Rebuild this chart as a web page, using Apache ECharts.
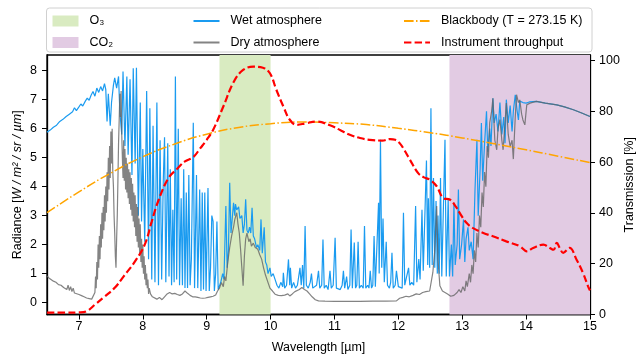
<!DOCTYPE html>
<html>
<head>
<meta charset="utf-8">
<script src="https://cdn.jsdelivr.net/npm/echarts@6/dist/echarts.min.js"></script>
<style>
html, body { margin: 0; padding: 0; background: #fff; }
#chart { width: 636px; height: 357px; }
</style>
</head>
<body>
<div id="chart"></div>
<script>
// absorption bands (µm)
const o3Band = [9.2, 10.0];
const co2Band = [12.8, 15.0];

// tick labels
const xTicks = [7, 8, 9, 10, 11, 12, 13, 14, 15];
const radianceTicks = [0, 1, 2, 3, 4, 5, 6, 7, 8];
const transmissionTicks = [0, 20, 40, 60, 80, 100];

// blackbody radiance, read every 0.5 µm
const bbWavelength = [6.5, 7, 7.5, 8, 8.5, 9, 9.5, 10, 10.5, 11, 11.5, 12, 12.5, 13, 13.5, 14, 14.5, 15];
const blackbody = [3.10, 3.82, 4.47, 5.03, 5.47, 5.81, 6.04, 6.17, 6.23, 6.20, 6.14, 6.01, 5.86, 5.68, 5.48, 5.27, 5.05, 4.83];

// instrument throughput [%]  [wavelength, value]
const throughput = [
  [6.5, 0.7], [6.8, 0.7], [7.0, 0.8], [7.12, 1.3], [7.25, 3.9], [7.4, 7.0], [7.56, 10.5], [7.7, 15], [7.88, 21],
  [8.03, 27.5], [8.14, 36.7], [8.24, 44.6], [8.4, 53.7], [8.55, 57.7], [8.66, 60.3], [8.79, 62.0], [8.9, 65.5],
  [9.0, 68.8], [9.1, 72.7], [9.26, 81.9], [9.42, 91.5], [9.57, 96.3], [9.73, 97.6], [9.88, 97.2], [9.99, 95],
  [10.09, 88.5], [10.2, 81.9], [10.3, 76.7], [10.41, 74.7], [10.55, 75.3], [10.72, 76], [10.93, 74.5], [11.1, 72.5],
  [11.24, 70.8], [11.4, 69.5], [11.55, 68.8], [11.75, 68.5], [11.87, 69.1], [11.95, 68.8], [12.02, 67.5], [12.1, 64.5],
  [12.18, 61], [12.31, 55.7], [12.4, 54], [12.49, 53.1], [12.6, 50.5], [12.7, 45.9], [12.81, 45.2], [12.9, 42.5],
  [12.96, 40], [13.07, 36], [13.17, 34], [13.33, 32.1], [13.48, 30.8], [13.69, 28.8], [13.9, 26.9], [14.01, 24.9],
  [14.11, 26.2], [14.27, 27.5], [14.37, 26.2], [14.43, 25.5], [14.48, 28.2], [14.53, 26], [14.58, 24.3], [14.68, 26.2],
  [14.79, 21.6], [14.89, 16.4], [14.97, 11.1], [15.0, 9.5]
];

// wet atmosphere radiance  [wavelength, value]
const wetAtmosphere = [
  [6.50, 5.88], [6.55, 5.95], [6.60, 6.05], [6.65, 6.12], [6.70, 6.25], [6.75, 6.32], [6.80, 6.42], [6.85, 6.50],
  [6.90, 6.58], [6.93, 6.72], [6.96, 6.62], [7.00, 6.75], [7.03, 6.85], [7.06, 6.78], [7.10, 6.95], [7.13, 7.05],
  [7.16, 6.98], [7.19, 7.15], [7.22, 7.28], [7.25, 7.12], [7.28, 7.40], [7.31, 7.25], [7.34, 7.45], [7.37, 7.30],
  [7.40, 7.55], [7.42, 7.35], [7.44, 6.25], [7.46, 7.2], [7.49, 6.1], [7.51, 6.9], [7.54, 7.5], [7.56, 7.75],
  [7.59, 7.4], [7.62, 7.8], [7.64, 6.6], [7.67, 5.8], [7.69, 7.97], [7.72, 5.4], [7.75, 7.8], [7.77, 5.1],
  [7.80, 7.7], [7.83, 4.4], [7.85, 8.08], [7.88, 4.8], [7.90, 8.1], [7.93, 3.0], [7.96, 6.9], [7.98, 2.8],
  [8.00, 5.3], [8.03, 2.1], [8.06, 7.3], [8.09, 1.5], [8.11, 6.7], [8.14, 0.8], [8.16, 6.1], [8.19, 0.7],
  [8.22, 6.9], [8.245, 0.6], [8.27, 5.6], [8.295, 0.8], [8.32, 4.2], [8.34, 5.7], [8.36, 0.7], [8.39, 5.5],
  [8.41, 0.9], [8.43, 4.6], [8.45, 0.6], [8.47, 3.2], [8.49, 0.7], [8.51, 7.8], [8.53, 0.8], [8.555, 6.0],
  [8.575, 0.6], [8.60, 3.6], [8.62, 0.6], [8.64, 4.6], [8.66, 0.5], [8.68, 3.8], [8.70, 0.5], [8.72, 4.4],
  [8.74, 0.6], [8.76, 1.5], [8.79, 6.2], [8.81, 0.5], [8.84, 4.4], [8.86, 0.5], [8.89, 3.9], [8.91, 0.4],
  [8.93, 3.8], [8.95, 0.45], [8.97, 3.8], [8.99, 0.4], [9.02, 3.95], [9.04, 0.4], [9.06, 1.2], [9.08, 3.0],
  [9.10, 2.8], [9.12, 0.4], [9.14, 1.0], [9.16, 2.8], [9.18, 0.45], [9.20, 0.5], [9.22, 0.7], [9.25, 1.0],
  [9.27, 0.8], [9.30, 3.33], [9.32, 1.2], [9.34, 1.8], [9.36, 4.13], [9.38, 2.4], [9.40, 2.9], [9.42, 3.44],
  [9.44, 3.0], [9.45, 3.4], [9.47, 3.2], [9.50, 3.3], [9.52, 2.9], [9.55, 3.0], [9.57, 2.4], [9.59, 2.7],
  [9.61, 3.56], [9.63, 2.5], [9.65, 2.4], [9.67, 2.6], [9.69, 2.4], [9.71, 3.27], [9.73, 2.3], [9.75, 2.2],
  [9.78, 1.9], [9.80, 2.0], [9.83, 1.8], [9.85, 2.87], [9.87, 1.7], [9.90, 2.6], [9.92, 1.4], [9.94, 1.3],
  [9.96, 1.0], [9.99, 1.2], [10.01, 0.9], [10.04, 1.0], [10.07, 0.8], [10.10, 0.6], [10.13, 0.5], [10.16, 0.7],
  [10.19, 0.55], [10.20, 1.03], [10.22, 0.5], [10.25, 0.6], [10.28, 1.49], [10.30, 0.6], [10.31, 1.2], [10.33, 0.5],
  [10.36, 0.7], [10.39, 0.5], [10.42, 0.6], [10.46, 1.2], [10.48, 0.6], [10.50, 1.3], [10.52, 0.5], [10.54, 2.64],
  [10.56, 0.6], [10.59, 0.5], [10.62, 0.7], [10.64, 1.0], [10.66, 0.5], [10.69, 0.55], [10.72, 0.6], [10.75, 1.1],
  [10.77, 0.5], [10.80, 0.6], [10.82, 2.18], [10.84, 0.5], [10.87, 0.6], [10.90, 0.45], [10.93, 1.1], [10.95, 0.5],
  [10.98, 0.6], [11.01, 2.24], [11.03, 0.5], [11.06, 0.55], [11.09, 0.45], [11.12, 0.6], [11.14, 1.1], [11.16, 0.5],
  [11.19, 0.9], [11.21, 0.45], [11.24, 0.6], [11.26, 2.52], [11.28, 0.5], [11.31, 2.07], [11.33, 0.5], [11.35, 0.6],
  [11.37, 2.1], [11.39, 0.5], [11.42, 0.6], [11.45, 0.5], [11.47, 2.64], [11.49, 0.5], [11.52, 0.6], [11.54, 0.5],
  [11.56, 1.1], [11.58, 0.5], [11.60, 0.6], [11.62, 2.3], [11.64, 0.55], [11.67, 0.6], [11.69, 3.44], [11.70, 1.0],
  [11.72, 5.62], [11.74, 1.2], [11.76, 2.9], [11.78, 0.7], [11.81, 2.1], [11.83, 0.6], [11.86, 0.5], [11.88, 0.7],
  [11.90, 1.72], [11.92, 0.5], [11.95, 0.6], [11.97, 1.1], [12.00, 0.55], [12.03, 0.6], [12.06, 0.5], [12.08, 3.1],
  [12.10, 0.6], [12.13, 0.55], [12.16, 1.2], [12.18, 0.6], [12.21, 0.7], [12.24, 0.6], [12.27, 3.33], [12.29, 0.7],
  [12.32, 1.5], [12.34, 0.8], [12.37, 3.2], [12.39, 1.1], [12.42, 1.15], [12.44, 4.9], [12.46, 1.3], [12.47, 3.6],
  [12.49, 1.2], [12.51, 6.7], [12.53, 1.3], [12.55, 4.3], [12.57, 1.2], [12.59, 3.5], [12.61, 1.0], [12.62, 3.0],
  [12.64, 1.0], [12.66, 4.3], [12.68, 0.9], [12.70, 0.9], [12.73, 5.62], [12.75, 0.9], [12.78, 3.6], [12.80, 0.9],
  [12.83, 2.0], [12.85, 0.9], [12.87, 3.44], [12.89, 1.3], [12.92, 2.0], [12.94, 3.9], [12.96, 1.5], [12.99, 2.0],
  [13.02, 2.87], [13.04, 1.4], [13.06, 2.2], [13.09, 2.6], [13.11, 1.8], [13.14, 2.1], [13.17, 1.5], [13.20, 3.9],
  [13.23, 5.62], [13.25, 3.0], [13.28, 4.6], [13.30, 6.19], [13.32, 4.2], [13.35, 5.5], [13.38, 6.6], [13.40, 5.2],
  [13.43, 6.0], [13.45, 5.4], [13.48, 7.05], [13.50, 6.2], [13.53, 6.5], [13.56, 5.9], [13.59, 6.9], [13.62, 5.8],
  [13.65, 6.4], [13.67, 5.5], [13.69, 7.0], [13.72, 6.2], [13.75, 6.8], [13.78, 5.9], [13.80, 6.6], [13.83, 7.17],
  [13.86, 6.6], [13.88, 6.3], [13.90, 6.95], [13.95, 6.9], [14.00, 6.88], [14.05, 6.92], [14.16, 6.94], [14.3, 6.88],
  [14.48, 6.82], [14.6, 6.75], [14.74, 6.65], [14.86, 6.55], [15.0, 6.42]
];

// dry atmosphere radiance  [wavelength, value]
const dryAtmosphere = [
  [6.50, 0.92], [6.53, 0.85], [6.56, 0.8], [6.60, 0.74], [6.64, 0.7], [6.68, 0.62], [6.72, 0.6], [6.76, 0.52],
  [6.79, 0.58], [6.81, 0.45], [6.83, 0.6], [6.85, 0.42], [6.87, 0.55], [6.89, 0.38], [6.91, 0.5], [6.93, 0.33],
  [6.96, 0.38], [7.00, 0.28], [7.04, 0.24], [7.08, 0.2], [7.12, 0.16], [7.16, 0.14], [7.20, 0.12], [7.23, 0.18],
  [7.25, 0.35], [7.26, 0.9], [7.27, 0.5], [7.28, 1.4], [7.29, 0.8], [7.30, 2.0], [7.31, 1.2], [7.32, 2.3],
  [7.33, 1.5], [7.34, 2.7], [7.35, 1.9], [7.36, 3.1], [7.37, 2.2], [7.38, 3.3], [7.39, 2.5], [7.40, 3.7],
  [7.41, 2.8], [7.42, 4.0], [7.43, 3.1], [7.44, 4.5], [7.45, 3.5], [7.46, 5.0], [7.47, 3.9], [7.48, 5.4],
  [7.49, 4.3], [7.50, 5.9], [7.51, 4.8], [7.52, 6.0], [7.53, 4.5], [7.54, 4.0], [7.55, 3.0], [7.56, 2.4],
  [7.57, 1.6], [7.58, 1.2], [7.59, 2.2], [7.60, 3.0], [7.61, 4.2], [7.62, 5.5], [7.63, 6.3], [7.64, 7.2],
  [7.65, 6.4], [7.66, 7.3], [7.67, 5.8], [7.68, 5.0], [7.69, 4.3], [7.70, 5.6], [7.71, 4.2], [7.72, 5.3],
  [7.73, 3.9], [7.74, 5.0], [7.75, 3.8], [7.76, 4.8], [7.77, 3.6], [7.78, 4.6], [7.79, 3.4], [7.80, 4.5],
  [7.81, 3.2], [7.82, 4.3], [7.83, 3.0], [7.84, 4.1], [7.85, 2.8], [7.86, 3.8], [7.87, 2.6], [7.88, 3.7],
  [7.89, 2.3], [7.90, 3.4], [7.91, 2.1], [7.92, 3.3], [7.93, 1.9], [7.94, 2.9], [7.95, 1.7], [7.96, 2.7],
  [7.97, 1.4], [7.98, 2.2], [7.99, 1.2], [8.00, 2.0], [8.01, 1.0], [8.02, 1.6], [8.03, 0.8], [8.04, 1.3],
  [8.05, 0.6], [8.06, 1.0], [8.07, 0.5], [8.08, 0.8], [8.09, 0.3], [8.10, 0.5], [8.12, 0.3], [8.15, 0.2],
  [8.18, 0.25], [8.22, 0.12],
  [8.26, 0.18], [8.30, 0.1], [8.34, 0.2], [8.38, 0.3], [8.42, 0.35], [8.46, 0.3], [8.50, 0.32], [8.54, 0.28],
  [8.58, 0.25], [8.62, 0.3], [8.66, 0.4], [8.70, 0.32], [8.74, 0.25], [8.78, 0.2], [8.82, 0.2], [8.86, 0.18],
  [8.90, 0.16], [8.94, 0.15], [8.98, 0.16], [9.02, 0.18], [9.06, 0.2], [9.10, 0.22], [9.14, 0.26], [9.17, 0.4],
  [9.20, 0.5], [9.23, 0.69], [9.26, 0.55], [9.28, 0.9], [9.30, 0.75], [9.33, 1.4], [9.36, 1.9], [9.39, 2.3],
  [9.42, 2.6], [9.44, 2.87], [9.47, 3.1], [9.49, 2.7], [9.51, 2.4], [9.53, 1.84], [9.55, 1.2], [9.57, 0.58],
  [9.59, 1.6], [9.61, 2.2], [9.63, 2.4], [9.66, 2.1], [9.68, 2.2], [9.70, 1.95], [9.73, 2.05], [9.76, 1.9],
  [9.80, 1.84], [9.83, 1.65], [9.86, 1.5], [9.89, 1.2], [9.92, 0.95], [9.96, 0.69], [9.99, 0.5], [10.03, 0.4],
  [10.07, 0.29], [10.12, 0.25], [10.17, 0.24], [10.22, 0.26], [10.27, 0.3], [10.30, 0.23], [10.34, 0.3], [10.38, 0.38],
  [10.41, 0.35], [10.45, 0.45], [10.49, 0.52], [10.53, 0.45], [10.57, 0.4], [10.61, 0.3], [10.65, 0.2], [10.70, 0.1],
  [10.75, 0.06], [10.85, 0.05], [11.0, 0.04], [11.2, 0.04], [11.4, 0.04], [11.6, 0.05], [11.8, 0.05], [11.97, 0.06],
  [12.02, 0.15], [12.07, 0.18], [12.12, 0.22], [12.17, 0.2], [12.23, 0.25], [12.28, 0.3], [12.33, 0.28], [12.38, 0.35],
  [12.43, 0.38], [12.49, 0.4], [12.54, 1.04], [12.57, 1.8], [12.60, 3.33], [12.62, 1.5], [12.65, 0.58], [12.69, 0.4],
  [12.73, 0.35], [12.77, 0.3], [12.82, 0.22], [12.87, 0.25], [12.92, 0.35], [12.95, 0.45], [12.98, 0.35], [13.01, 0.55],
  [13.04, 0.4], [13.06, 0.75], [13.08, 0.55], [13.11, 1.0], [13.13, 0.7], [13.15, 1.3], [13.17, 1.0], [13.19, 1.8],
  [13.21, 1.4], [13.23, 2.4], [13.25, 1.9], [13.27, 3.0], [13.29, 2.6], [13.31, 3.8], [13.33, 3.3], [13.35, 4.5],
  [13.37, 4.0], [13.39, 5.4], [13.41, 5.0], [13.43, 6.2], [13.46, 6.6], [13.48, 7.05], [13.51, 5.6], [13.54, 5.27],
  [13.56, 6.0], [13.59, 6.31], [13.62, 5.6], [13.64, 5.27], [13.67, 6.2], [13.69, 6.88], [13.72, 5.8], [13.75, 5.39],
  [13.78, 5.6], [13.80, 4.95], [13.83, 6.4], [13.85, 7.17], [13.88, 6.9], [13.90, 6.99], [13.93, 6.5], [13.95, 6.3],
  [13.98, 6.13], [14.01, 6.82], [14.06, 6.88], [14.16, 6.94], [14.3, 6.88], [14.48, 6.82], [14.6, 6.75], [14.74, 6.65],
  [14.86, 6.55], [15.0, 6.42]
];

const font = 'Liberation Sans, Arial, sans-serif';
const o3Color = '#d9ebc1';
const co2Color = '#e2cbe3';

// one legend column
function legendColumn(left, names) {
  return {
    left: left,
    top: 14.5,
    orient: 'vertical',
    padding: 0,
    itemWidth: 26,
    itemHeight: 11,
    itemGap: 8.5,
    selectedMode: false,
    data: names,
    textStyle: { fontFamily: font, fontSize: 12.5, color: '#000', padding: [0, 0, 0, 6] }
  };
}
// line entries: hide the symbol drawn in the middle of the legend line
const lineItem = (name) => ({ name: name, itemStyle: { opacity: 0 } });

const mycharts = echarts.init(document.getElementById('chart'));
mycharts.setOption({
  animation: false,
  backgroundColor: '#fff',
  textStyle: { fontFamily: font },
  graphic: [
    {
      type: 'rect',
      z: 0,
      shape: { x: 46.5, y: 8, width: 545.5, height: 44, r: 3 },
      style: { fill: 'rgba(255,255,255,0.8)', stroke: '#d0d0d0', lineWidth: 1 }
    }
  ],
  legend: [
    legendColumn(52.5, [
      { name: 'O₃', icon: 'rect', itemStyle: { color: o3Color } },
      { name: 'CO₂', icon: 'rect', itemStyle: { color: co2Color } }
    ]),
    legendColumn(192.5, [lineItem('Wet atmosphere'), lineItem('Dry atmosphere')]),
    legendColumn(403, [lineItem('Blackbody (T = 273.15 K)'), lineItem('Instrument throughput')])
  ],
  grid: {
    left: 47,
    right: 46,
    top: 55,
    bottom: 42.5,
    show: true,
    borderColor: '#000',
    borderWidth: 1.3,
    containLabel: false,
    outerBoundsMode: 'none'
  },
  xAxis: {
    type: 'value',
    min: 6.5,
    max: 15,
    name: 'Wavelength [µm]',
    nameLocation: 'middle',
    nameGap: 27,
    nameMoveOverlap: false,
    nameTextStyle: { fontFamily: font, fontSize: 12.5, color: '#000' },
    axisLine: { show: true, onZero: false, lineStyle: { color: '#000', width: 1.3 } },
    axisTick: { show: true, length: 5, lineStyle: { color: '#000' }, customValues: xTicks },
    axisLabel: { color: '#000', fontSize: 12.5, fontFamily: font, margin: 6, customValues: xTicks },
    splitLine: { show: false }
  },
  yAxis: [
    {
      type: 'value',
      min: -0.41,
      max: 8.54,
      name: 'Radiance [{i|W / m² / sr / µm}]',
      nameLocation: 'middle',
      nameGap: 23,
      nameRotate: 90,
      nameMoveOverlap: false,
      nameTextStyle: {
        fontFamily: font, fontSize: 12.5, color: '#000',
        rich: { i: { fontFamily: font, fontSize: 12.5, fontStyle: 'italic', color: '#000' } }
      },
      axisLine: { show: true, onZero: false, lineStyle: { color: '#000', width: 1.3 } },
      axisTick: { show: true, length: 5, lineStyle: { color: '#000' }, customValues: radianceTicks },
      axisLabel: { color: '#000', fontSize: 12.5, fontFamily: font, margin: 10, customValues: radianceTicks },
      splitLine: { show: false }
    },
    {
      type: 'value',
      position: 'right',
      min: 0,
      max: 102.2,
      name: 'Transmission [%]',
      nameLocation: 'middle',
      nameGap: 33,
      nameRotate: 90,
      nameMoveOverlap: false,
      nameTextStyle: { fontFamily: font, fontSize: 12.5, color: '#000' },
      axisLine: { show: true, onZero: false, lineStyle: { color: '#000', width: 1.3 } },
      axisTick: { show: true, length: 5, lineStyle: { color: '#000' }, customValues: transmissionTicks },
      axisLabel: { color: '#000', fontSize: 12.5, fontFamily: font, margin: 9, customValues: transmissionTicks },
      splitLine: { show: false }
    }
  ],
  series: [
    {
      name: 'O₃',
      type: 'line',
      data: [],
      symbol: 'none',
      z: 1,
      itemStyle: { color: o3Color },
      markArea: {
        silent: true,
        itemStyle: { color: o3Color, opacity: 1 },
        data: [[{ xAxis: o3Band[0] }, { xAxis: o3Band[1] }]]
      }
    },
    {
      name: 'CO₂',
      type: 'line',
      data: [],
      symbol: 'none',
      z: 1,
      itemStyle: { color: co2Color },
      markArea: {
        silent: true,
        itemStyle: { color: co2Color, opacity: 1 },
        data: [[{ xAxis: co2Band[0] }, { xAxis: co2Band[1] }]]
      }
    },
    {
      name: 'Wet atmosphere',
      type: 'line',
      data: wetAtmosphere,
      symbol: 'none',
      z: 2,
      itemStyle: { color: '#1a9bf0' },
      lineStyle: { color: '#1a9bf0', width: 1.2 }
    },
    {
      name: 'Dry atmosphere',
      type: 'line',
      data: dryAtmosphere,
      symbol: 'none',
      z: 3,
      itemStyle: { color: 'rgba(100,100,100,0.8)' },
      lineStyle: { color: 'rgba(100,100,100,0.8)', width: 1.2 }
    },
    {
      name: 'Blackbody (T = 273.15 K)',
      type: 'line',
      data: bbWavelength.map((w, i) => [w, blackbody[i]]),
      symbol: 'none',
      smooth: true,
      z: 4,
      itemStyle: { color: '#ffa500' },
      lineStyle: { color: '#ffa500', width: 1.5, type: [9.6, 2.4, 1.5, 2.4] }
    },
    {
      name: 'Instrument throughput',
      type: 'line',
      yAxisIndex: 1,
      data: throughput,
      symbol: 'none',
      smooth: 0.4,
      z: 5,
      itemStyle: { color: '#ff0000' },
      lineStyle: { color: '#ff0000', width: 2.2, type: [7.4, 3.2] }
    }
  ]
});
</script>
</body>
</html>
